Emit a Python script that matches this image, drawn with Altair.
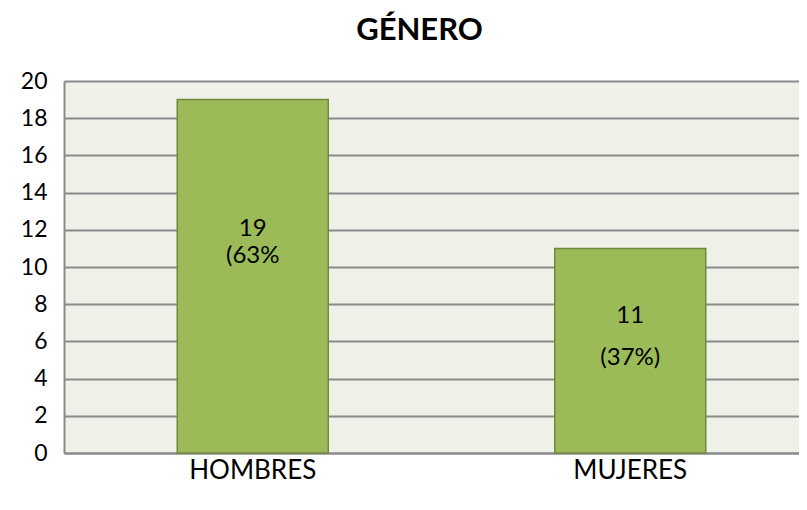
import altair as alt
import pandas as pd

categories = ["HOMBRES", "MUJERES"]
values = [19, 11]
count_labels = ["19", "11"]
pct_labels = ["(63%", "(37%)"]

df = pd.DataFrame({"cat": categories, "val": values, "count": count_labels, "pct": pct_labels})
df["mid"] = df["val"] / 2

FONT = "Lato"

xscale = alt.Scale(paddingInner=0.6, paddingOuter=0.3, range=[0, 755])
yscale = alt.Scale(domain=[0, 20], nice=False)
xaxis = alt.Axis(labelAngle=0, labelFontSize=26, labelColor="#000000", labelFont=FONT,
                 ticks=False, domainColor="#8a8a8a", domainWidth=2, labelPadding=4, grid=False)
yaxis = alt.Axis(values=list(range(0, 21, 2)), labelFontSize=23, labelColor="#000000",
                 labelFont=FONT, ticks=False, domainColor="#8a8a8a", domainWidth=2,
                 gridColor="#8a8a8a", gridWidth=1.8, labelPadding=17, labelOverlap=False)

bars = alt.Chart(df).mark_bar(color="#9BBB59", stroke="#71893F", strokeWidth=1.5).encode(
    x=alt.X("cat:N", sort=categories, title=None, scale=xscale, axis=xaxis),
    y=alt.Y("val:Q", title=None, scale=yscale, axis=yaxis),
)

def lab(cat, field, dy):
    return alt.Chart(df).transform_filter(alt.datum.cat == cat).mark_text(
        font=FONT, fontSize=24, color="#000000", dy=dy
    ).encode(x=alt.X("cat:N", sort=categories, title=None, scale=xscale, axis=xaxis),
             y=alt.Y("mid:Q", title=None, scale=yscale, axis=yaxis), text=f"{field}:N")

chart = alt.layer(
    bars,
    lab("HOMBRES", "count", -47), lab("HOMBRES", "pct", -20),
    lab("MUJERES", "count", -35), lab("MUJERES", "pct", 7),
).properties(
    width=735, height=372,
    title=alt.TitleParams("GÉNERO", font=FONT, fontSize=31, fontWeight="bold", color="#000000",
                          anchor="middle", dx=-12, offset=23),
    autosize=alt.AutoSizeParams(type="none"),
    padding={"left": 56, "top": 73, "right": 0, "bottom": 45},
).configure(background="#ffffff").configure_view(fill="#EEF1E8", strokeWidth=0)

chart.save("out.html", embed_options={"renderer": "svg", "actions": False})
